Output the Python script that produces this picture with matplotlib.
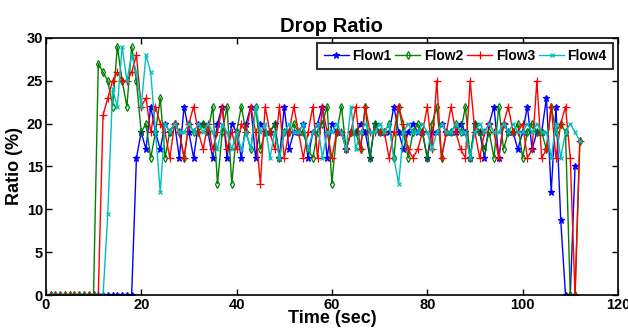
import matplotlib
matplotlib.use("Agg")
import matplotlib.pyplot as plt
import numpy as np

plt.rcParams['font.family'] = ['Liberation Sans', 'DejaVu Sans']
plt.rcParams['font.weight'] = 'bold'

flow1 = [0]*18 + [16, 19, 17, 22, 19, 17, 20, 19, 20, 16, 22, 19, 16, 20, 20, 19, 16, 20, 22, 16,
                  20, 19, 16, 20, 22, 16, 20, 19, 19, 20, 16, 22, 17, 19, 19, 20, 16, 19, 20, 22,
                  16, 20, 19, 19, 17, 19, 19, 20, 19, 16, 20, 19, 19, 19, 22, 19, 17, 19, 20, 19,
                  19, 16, 19, 19, 20, 19, 19, 19, 20, 19, 16, 20, 19, 16, 20, 22, 16, 20, 19, 19,
                  17, 19, 22, 17, 19, 19, 23, 12, 22, 8.7, 0, 0, 15]
flow2 = [0]*10 + [27, 26, 25, 22, 29, 25, 22, 29, 25, 19, 20, 16, 19, 23, 16, 19, 20, 19, 16, 20,
                  19, 19, 20, 19, 22, 13, 19, 22, 13, 19, 22, 19, 17, 22, 17, 19, 19, 20, 16, 19,
                  19, 20, 19, 19, 17, 16, 19, 20, 22, 13, 19, 22, 17, 19, 19, 17, 22, 16, 20, 19,
                  19, 20, 16, 22, 19, 16, 19, 20, 19, 16, 20, 22, 16, 19, 19, 20, 19, 22, 16, 20,
                  19, 17, 19, 16, 22, 17, 19, 19, 20, 16, 19, 20, 19, 19, 17, 22, 19, 20, 19, 0,
                  0, 18]
flow3 = [0]*11 + [21, 23, 25, 26, 25, 25, 26, 28, 22, 23, 19, 22, 20, 19, 16, 20, 19, 16, 20, 22,
                  19, 17, 20, 17, 19, 22, 17, 19, 17, 20, 19, 22, 19, 13, 22, 19, 17, 22, 16, 19,
                  22, 19, 16, 19, 22, 16, 22, 19, 16, 19, 19, 17, 19, 22, 17, 22, 19, 19, 19, 19,
                  16, 19, 22, 20, 17, 16, 17, 19, 22, 17, 25, 16, 19, 22, 19, 17, 16, 25, 19, 16,
                  19, 20, 19, 16, 20, 22, 19, 19, 20, 16, 17, 25, 16, 17, 22, 16, 20, 22, 16, 0,
                  18]
flow4 = [0]*12 + [9.5, 24, 22, 29, 25, 28, 26, 22, 28, 26, 19, 12, 20, 19, 20, 19, 19, 20, 19, 20,
                  19, 20, 19, 17, 20, 19, 17, 19, 17, 19, 17, 22, 19, 20, 16, 19, 16, 19, 20, 19,
                  19, 20, 17, 19, 20, 16, 19, 19, 20, 19, 17, 22, 17, 19, 20, 19, 19, 20, 19, 20,
                  16, 13, 19, 20, 19, 19, 20, 19, 17, 19, 20, 19, 19, 20, 19, 19, 16, 19, 20, 19,
                  20, 19, 19, 20, 19, 20, 19, 19, 20, 19, 20, 19, 19, 16, 20, 16, 19, 20, 19, 18]

series = [
    ("Flow1", flow1, (0, 0, 1), '*', dict(markersize=5)),
    ("Flow2", flow2, (0, 0.5, 0), 'd', dict(markersize=4, markerfacecolor='none')),
    ("Flow3", flow3, (1, 0, 0), '+', dict(markersize=6)),
    ("Flow4", flow4, (0, 0.75, 0.75), 'x', dict(markersize=3)),
]

fig = plt.figure(figsize=(6.28, 3.30), dpi=100)
ax = fig.add_axes([0.073, 0.106, 0.911, 0.779])

for name, vals, col, mk, kw in series:
    x = np.arange(1, len(vals) + 1)
    ax.plot(x, vals, color=col, marker=mk, linewidth=1.0, label=name,
            markeredgewidth=0.9, **kw)

ax.set_xlim(0, 120)
ax.set_ylim(0, 30)
ax.set_xticks(np.arange(0, 121, 20))
ax.set_yticks(np.arange(0, 31, 5))
ax.tick_params(direction='in', length=4, width=1, labelsize=10.5, top=True, right=True,
               pad=2)
for lbl in ax.get_xticklabels() + ax.get_yticklabels():
    lbl.set_fontweight('bold')
for s in ax.spines.values():
    s.set_linewidth(1.2)

ax.set_title("Drop Ratio", fontsize=14.5, fontweight='bold', pad=4)
ax.set_xlabel("Time (sec)", fontsize=13, fontweight='bold', labelpad=-1)
ax.set_ylabel("Ratio (%)", fontsize=13, fontweight='bold', labelpad=3)

leg = ax.legend(loc='upper right', ncol=4, frameon=True, fancybox=False,
                handlelength=1.8, handletextpad=0.25, columnspacing=0.3,
                borderpad=0.45, borderaxespad=0.35, prop={'weight': 'bold', 'size': 10})
leg.get_frame().set_edgecolor('black')
leg.get_frame().set_linewidth(1.5)

fig.savefig("out.png", dpi=100)
